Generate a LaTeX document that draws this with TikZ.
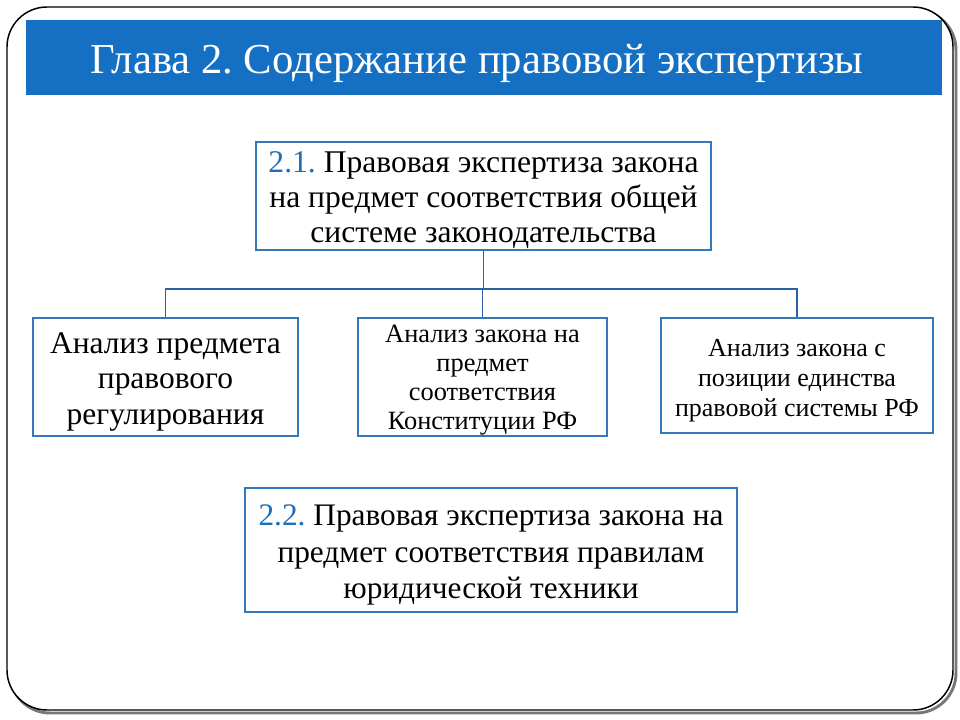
\documentclass[tikz,border=0pt]{standalone}
\usepackage{fontspec}
\newfontfamily\tms{Liberation Serif}
\frenchspacing
\definecolor{titleblue}{RGB}{21,112,196}
\definecolor{boxblue}{RGB}{52,120,186}
\definecolor{lineblue}{RGB}{40,100,165}
\definecolor{numblue}{RGB}{31,111,181}
\definecolor{shadowgray}{RGB}{120,120,120}
\begin{document}
\begin{tikzpicture}[x=0.75pt,y=-0.75pt,
  box/.style={draw=boxblue,line width=1.1pt,fill=white,inner sep=0pt,anchor=center},
  txt/.style={align=center,inner sep=0pt,anchor=center},
  conn/.style={draw=lineblue,line width=1.1pt}]
\useasboundingbox (0,0) rectangle (960,720);
\fill[white] (0,0) rectangle (960,720);
% frame with shadow
\draw[shadowgray,line width=2.2pt,rounded corners=30] (10,10) rectangle (956,713);
\draw[black,line width=1.1pt,fill=white,rounded corners=30] (7,7) rectangle (953,710);
% title bar
\fill[titleblue] (26,20) rectangle (942,95);
\node[text=white,font=\tms\fontsize{32}{38}\selectfont,anchor=center] (title) at (477,63) {Глава 2. Содержание правовой экспертизы};
% boxes
\node[box,minimum width=455*0.75pt,minimum height=108*0.75pt] (top) at (483.5,196) {};
\node[txt,font=\tms\fontsize{23.7}{26.3}\selectfont] (toptext) at (483.5,200)
  {\textcolor{numblue}{2.1.} Правовая экспертиза закона\\на предмет соответствия общей\\системе законодательства};
\node[box,minimum width=265*0.75pt,minimum height=118*0.75pt] (left) at (165.5,377) {};
\node[txt,font=\tms\fontsize{23.6}{26.3}\selectfont] (lefttext) at (165.5,382)
  {Анализ предмета\\правового\\регулирования};
\node[box,minimum width=249*0.75pt,minimum height=118*0.75pt] (mid) at (482.5,377) {};
\node[txt,font=\tms\fontsize{19.8}{21.9}\selectfont] (midtext) at (482.5,380)
  {Анализ закона на\\предмет\\соответствия\\Конституции РФ};
\node[box,minimum width=272*0.75pt,minimum height=115*0.75pt] (right) at (797,375.5) {};
\node[txt,font=\tms\fontsize{19.5}{22.5}\selectfont] (righttext) at (797,380.5)
  {Анализ закона с\\позиции единства\\правовой системы РФ};
\node[box,minimum width=492*0.75pt,minimum height=124*0.75pt] (bottom) at (491,550) {};
\node[txt,font=\tms\fontsize{23.5}{27.7}\selectfont] (bottomtext) at (491,555)
  {\textcolor{numblue}{2.2.} Правовая экспертиза закона на\\предмет соответствия правилам\\юридической техники};
% connectors
\coordinate (bus) at (483.5,289);
\draw[conn] (top.south) -- (bus);
\draw[conn] (left.north) -- (left.north |- bus) -- (right.north |- bus) -- (right.north);
\draw[conn] (mid.north) -- (mid.north |- bus);
\end{tikzpicture}
\end{document}
